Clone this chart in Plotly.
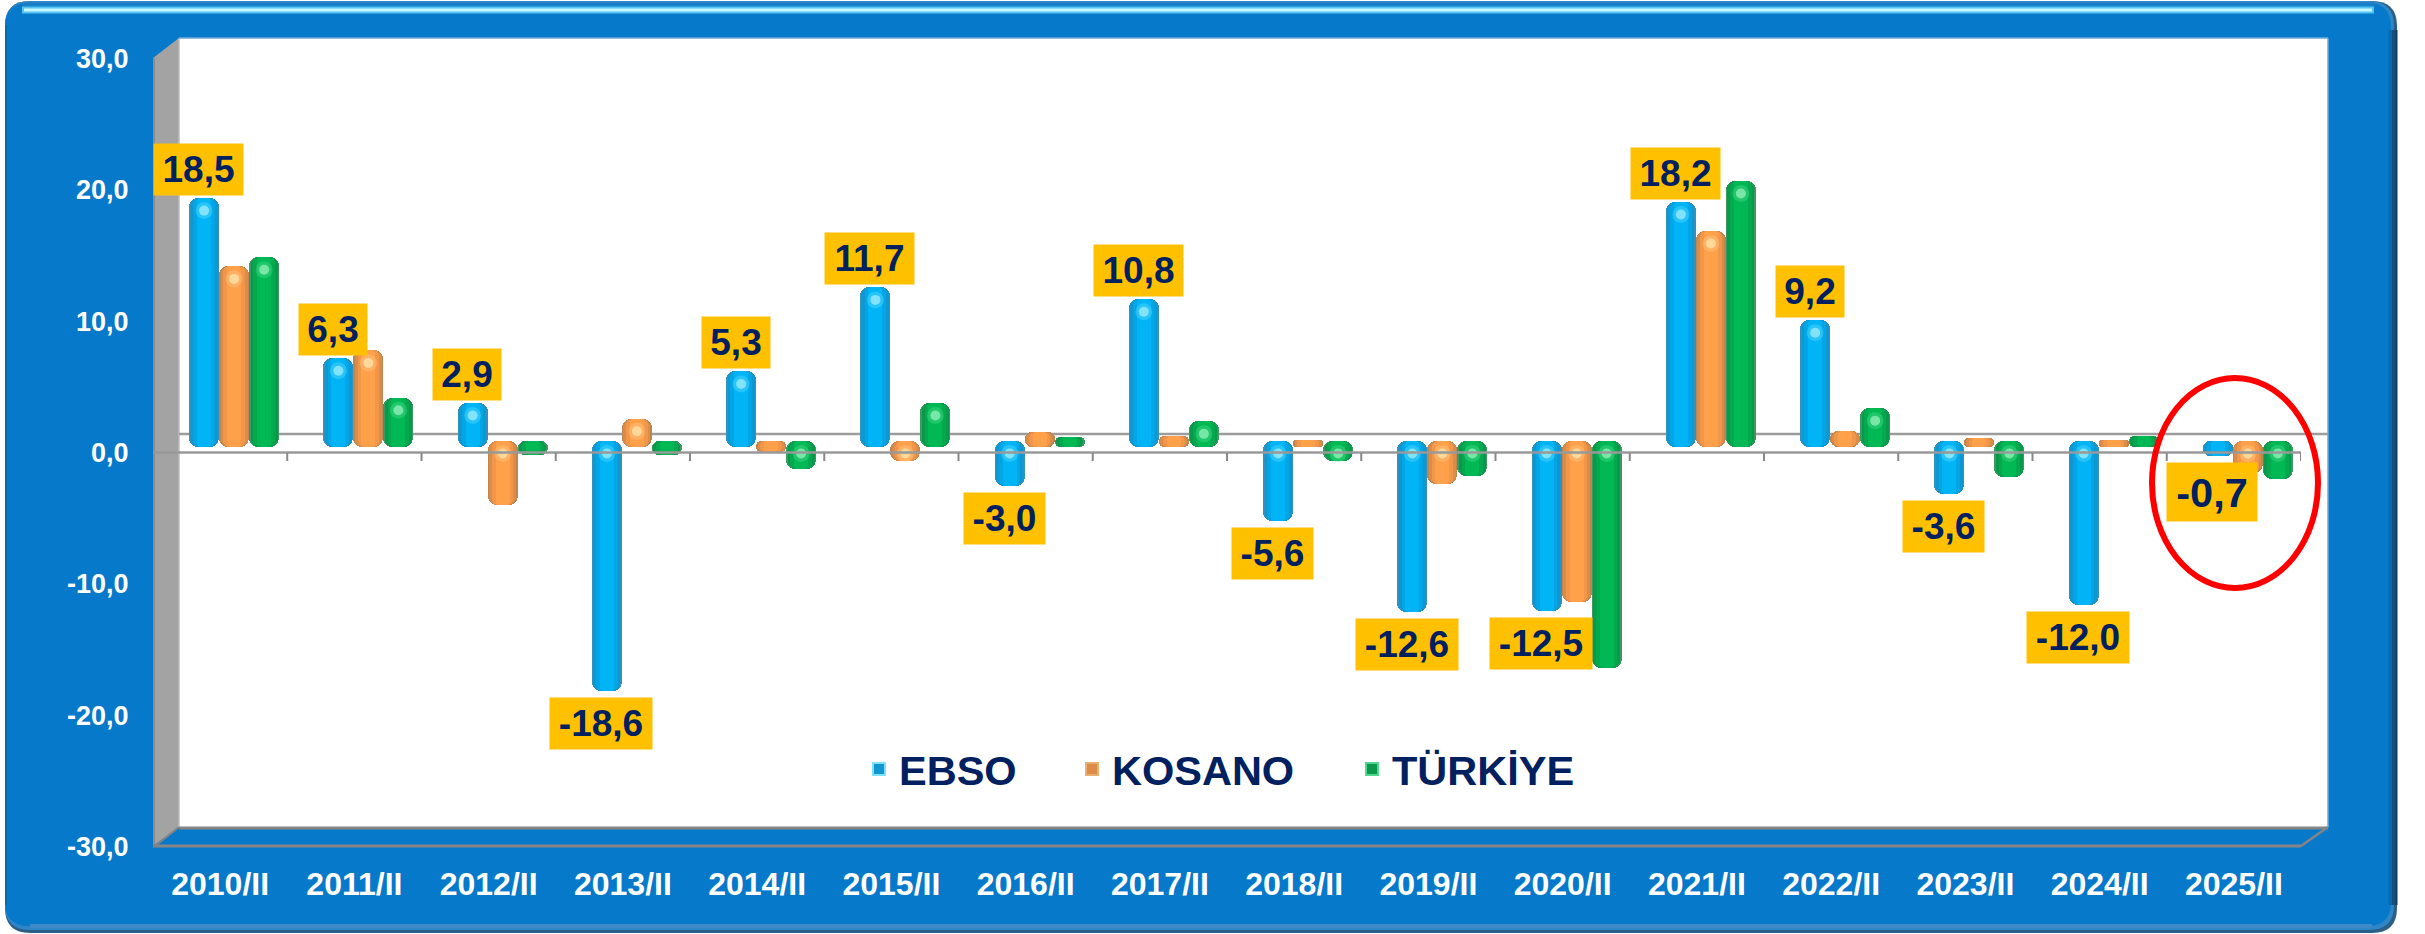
import plotly.graph_objects as go

CATEGORIES = ["2010/II","2011/II","2012/II","2013/II","2014/II","2015/II","2016/II","2017/II",
              "2018/II","2019/II","2020/II","2021/II","2022/II","2023/II","2024/II","2025/II"]
EBSO    = [18.5, 6.3, 2.9, -18.6, 5.3, 11.7, -3.0, 10.8, -5.6, -12.6, -12.5, 18.2, 9.2, -3.6, -12.0, -0.7]
KOSANO  = [13.3, 6.9, -4.4, 1.7, -0.4, -1.1, 0.7, 0.4, 0.1, -2.8, -11.8, 16.0, 0.8, 0.2, 0.1, -2.0]
TURKIYE = [14.0, 3.3, -0.6, -0.6, -1.7, 2.9, 0.3, 1.5, -1.1, -2.2, -16.8, 19.8, 2.5, -2.3, 0.4, -2.4]
LABELS  = ["18,5","6,3","2,9","-18,6","5,3","11,7","-3,0","10,8","-5,6","-12,6","-12,5","18,2","9,2","-3,6","-12,0","-0,7"]
Y_TICKS = [30, 20, 10, 0, -10, -20, -30]
Y_TICK_TEXT = ["30,0","20,0","10,0","0,0","-10,0","-20,0","-30,0"]
SERIES_NAMES = ["EBSO", "KOSANO", "TÜRKİYE"]

W_PX, H_PX = 2425, 934
FONT = "Liberation Sans"
NAVY = "#002060"
BLUE = "#0779CB"
PX_PER_CAT = 134.25

def px(x): return x / W_PX
def py(y): return 1 - y / H_PX

def line(x0, y0, x1, y1, color, width, layer="below"):
    return dict(type="line", xref="paper", yref="paper", x0=px(x0), y0=py(y0), x1=px(x1), y1=py(y1),
                line=dict(color=color, width=width), layer=layer)

def poly(points, fill, edge=None, edge_w=0, layer="below"):
    path = "M " + " L ".join(f"{px(a):.6f},{py(b):.6f}" for a, b in points) + " Z"
    return dict(type="path", xref="paper", yref="paper", path=path, fillcolor=fill,
                line=dict(color=edge or fill, width=edge_w), layer=layer)

def rounded(x0, y0, x1, y1, r, fill):
    P = lambda a, b: f"{px(a):.6f},{py(b):.6f}"
    path = (f"M {P(x0+r,y0)} L {P(x1-r,y0)} Q {P(x1,y0)} {P(x1,y0+r)} L {P(x1,y1-r)} Q {P(x1,y1)} {P(x1-r,y1)} "
            f"L {P(x0+r,y1)} Q {P(x0,y1)} {P(x0,y1-r)} L {P(x0,y0+r)} Q {P(x0,y0)} {P(x0+r,y0)} Z")
    return dict(type="path", xref="paper", yref="paper", path=path, fillcolor=fill,
                line=dict(width=0), layer="below")

fig = go.Figure()

# cylinder-like bars: nested layers from the same values
BAR_W = 30 / PX_PER_CAT
CAP = 0.45
SHADES = [
    ["#2E93BE", "#1096D0", "#02A6E6", "#00B4F6"],
    ["#BD8550", "#DB8C49", "#F2974A", "#FFA04A"],
    ["#3A9A62", "#0A984A", "#04A84F", "#00B854"],
]
SPOTS = [("#5FDCFF", "#B5F4FF"), ("#FFC988", "#FFEFB8"), ("#4FDC8C", "#A8F8C8")]
SWATCH_EDGE = ["#7FE0FF", "#E8B070", "#50D890"]
LAYER_FRAC = [1.0, 0.9, 0.72, 0.46]
LAYER_R = [9, 8, 6, 4]

for k, (name, vals) in enumerate(zip(SERIES_NAMES, [EBSO, KOSANO, TURKIYE])):
    xs = [i + (k - 1) * BAR_W for i in range(len(vals))]
    for j, frac in enumerate(LAYER_FRAC):
        fig.add_trace(go.Bar(
            x=xs, y=[abs(v) + CAP for v in vals], base=[min(v, 0) for v in vals],
            width=BAR_W * frac, xaxis="x2", yaxis="y2", name=name,
            marker=dict(color=SHADES[k][j], cornerradius=LAYER_R[j], line=dict(width=0)),
            showlegend=False, hoverinfo="skip"))
    big = [(x, max(v, 0) + CAP - 0.95) for x, v in zip(xs, vals) if abs(v) + CAP > 1.3]
    for size, col, op in [(17, SPOTS[k][0], 0.4), (10, SPOTS[k][1], 0.65)]:
        fig.add_trace(go.Scatter(
            x=[p[0] for p in big], y=[p[1] for p in big], mode="markers", xaxis="x2", yaxis="y2",
            marker=dict(size=size, color=col, opacity=op, line=dict(width=0)),
            showlegend=False, hoverinfo="skip"))
    # legend entry for the series
    fig.add_trace(go.Scatter(
        x=[None], y=[None], mode="markers", xaxis="x2", yaxis="y2", name=name,
        legend=["legend", "legend2", "legend3"][k],
        marker=dict(symbol="square", size=16, color=SHADES[k][1],
                    line=dict(color=SWATCH_EDGE[k], width=2)),
        showlegend=True, hoverinfo="skip"))

# value labels, above or below the EBSO bar
annotations = []
for i, (v, t) in enumerate(zip(EBSO, LABELS)):
    last = i == len(EBSO) - 1
    wide = 89 if len(t.lstrip("-")) == 4 else 68
    if v < 0:
        wide = 102 if len(t) == 5 else 81
    annotations.append(dict(
        x=i - BAR_W, y=v, xref="x2", yref="y2", text=t, showarrow=False,
        xshift=-5.5, yshift=(-35.8 if last else -32.5) if v < 0 else 34.5,
        width=90 if last else wide, height=58 if last else 51,
        bgcolor="#FFC000", align="center", valign="middle", borderpad=0,
        font=dict(family=FONT, size=41.5 if last else 37, color=NAVY, weight="bold")))

FX0, FX1, FY0, FY1 = 153, 2301, 58.5, 846.5
SHIFT_X, SHIFT_Y = 14, -5.5

shapes = [
    rounded(5, 1, 2397, 933, 25, "#2C5F86"),
    rounded(5, 1, 2394, 930, 25, "#2F86C6"),
    rounded(5, 3, 2391, 926, 24, BLUE),
    line(2390, 30, 2390, 905, "#0A6AAE", 3),
    line(2393.5, 30, 2393.5, 905, "#14517C", 4),
    line(2396.5, 30, 2396.5, 905, "#173B56", 2),
    line(6, 25, 6, 905, "#0A68AC", 2),
    line(22, 5, 2375, 5, "#1A80C8", 3),
    line(22, 10, 2374, 10, "#55C4F0", 7),
    line(24, 10, 2372, 10, "#C6F6FF", 3),
    line(30, 926, 2372, 926, "#3F8AC8", 4),
    rounded(179, 38, 2328, 827, 0, "#FFFFFF"),
    poly([(153, 58), (179, 38), (179, 827), (153, 846)], "#A3A3A3"),
    line(154, 58, 154, 846, "#8C8C8C", 2),
    line(179, 38, 179, 827, "#BDBDBD", 1.5),
    line(179, 828, 2328, 828, "#858585", 3),
    line(153, 846, 2301, 846, "#858585", 3),
    line(2301, 846, 2328, 827, "#858585", 2.5),
    line(155, 846, 179, 827, "#858585", 2),
    line(179, 38, 2328, 38, "#6FA9D6", 1.5),
    line(2328, 38, 2328, 827, "#6FA9D6", 1.5),
    line(179, 434, 2328, 434, "#9C9C9C", 2.5),
    # front zero line and category ticks, in front of the bars
    dict(type="line", xref="x", yref="y", x0=-0.5, x1=15.5, y0=0, y1=0, layer="above",
         line=dict(color="#999999", width=2.5)),
]
for i in range(1, len(CATEGORIES) + 1):
    shapes.append(dict(type="line", xref="x", yref="paper", x0=i - 0.5, x1=i - 0.5,
                       y0=py(453), y1=py(461), layer="above", line=dict(color="#888888", width=2)))
shapes.append(dict(type="circle", xref="paper", yref="paper", x0=px(2152), x1=px(2318), y0=py(378), y1=py(588),
                   layer="above", line=dict(color="#FF0000", width=6), fillcolor="rgba(0,0,0,0)"))

legend_base = dict(orientation="h", xanchor="left", yanchor="middle", y=py(769),
                   bgcolor="rgba(0,0,0,0)", borderwidth=0, itemsizing="constant",
                   font=dict(family=FONT, size=41.5, color=NAVY, weight="bold"))

tick_font = dict(family=FONT, color="#FFFFFF", weight="bold")
fig.update_layout(
    width=W_PX, height=H_PX, autosize=False,
    margin=dict(l=0, r=0, t=0, b=0, pad=0, autoexpand=False),
    paper_bgcolor="#FFFFFF", plot_bgcolor="rgba(0,0,0,0)", barmode="overlay", bargap=0,
    font=dict(family=FONT),
    xaxis=dict(domain=[px(FX0), px(FX1)], range=[-0.5, 15.5], tickmode="array",
               tickvals=list(range(len(CATEGORIES))), ticktext=CATEGORIES, anchor="y",
               showgrid=False, zeroline=False, showline=False, ticks="outside", ticklen=9,
               tickcolor="rgba(0,0,0,0)", tickfont=dict(size=32, **tick_font)),
    yaxis=dict(domain=[py(FY1), py(FY0)], range=[-30, 30], tickmode="array", tickvals=Y_TICKS,
               ticktext=Y_TICK_TEXT, anchor="x", showgrid=False, zeroline=False, showline=False,
               ticks="outside", ticklen=18, tickcolor="rgba(0,0,0,0)", tickfont=dict(size=27, **tick_font)),
    xaxis2=dict(domain=[px(FX0 + SHIFT_X), px(FX1 + SHIFT_X)], range=[-0.5, 15.5], anchor="y2", visible=False),
    yaxis2=dict(domain=[py(FY1 + SHIFT_Y), py(FY0 + SHIFT_Y)], range=[-30, 30], anchor="x2", visible=False),
    legend=dict(x=px(859), **legend_base),
    legend2=dict(x=px(1072), **legend_base),
    legend3=dict(x=px(1352), **legend_base),
    shapes=shapes, annotations=annotations,
)

fig.write_html("out.html", config={"displayModeBar": False},
               post_script="document.body.style.margin='0';document.documentElement.style.overflow='hidden';")
